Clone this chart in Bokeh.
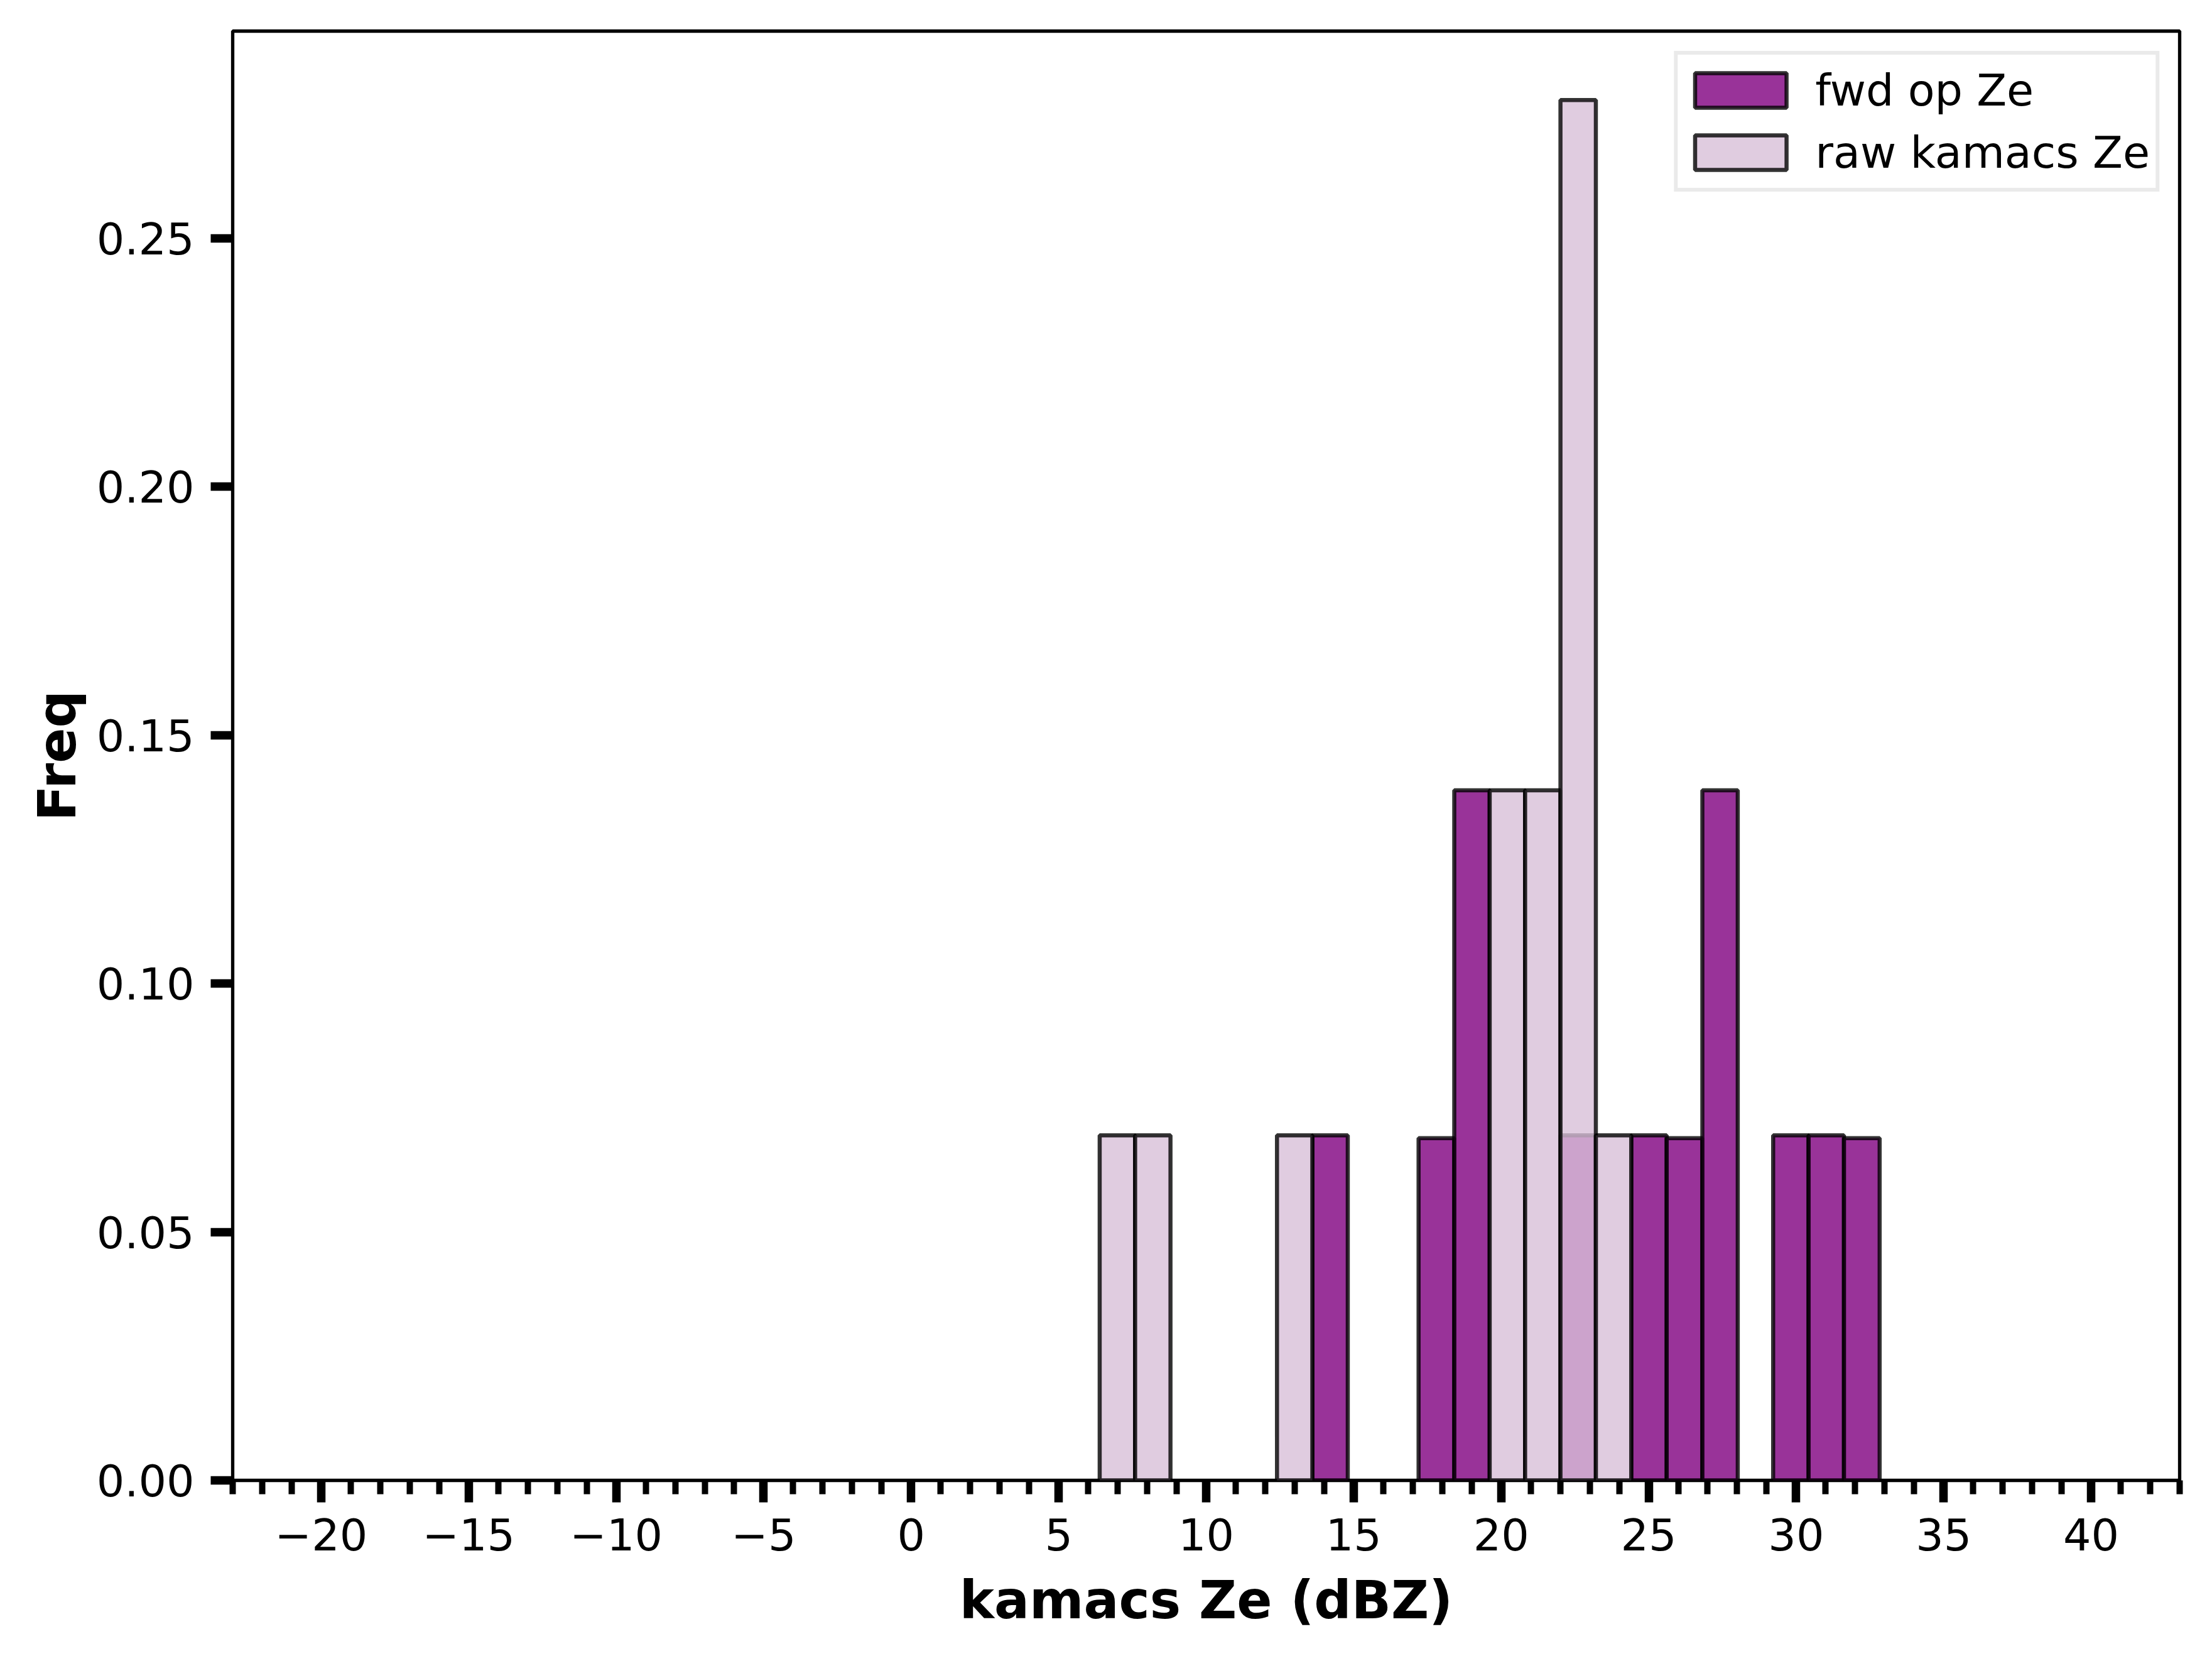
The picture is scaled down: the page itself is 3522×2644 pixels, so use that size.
from bokeh.plotting import figure
from bokeh.models import Range1d, FixedTicker, Legend, LegendItem
from bokeh.embed import file_html
from bokeh.resources import INLINE

# ---- data ----
bin_edges = [6.39, 7.59, 8.79, 10.00, 11.20, 12.40, 13.60, 14.80, 16.00, 17.20,
             18.41, 19.61, 20.81, 22.01, 23.21, 24.41, 25.61, 26.82, 28.02,
             29.22, 30.42, 31.62, 32.83]
fwd_counts = [0, 0, 0, 0, 0, 0, 1, 0, 0, 1, 2, 0, 0, 1, 0, 1, 1, 2, 0, 1, 1, 1]
raw_counts = [1, 1, 0, 0, 0, 1, 0, 0, 0, 0, 0, 2, 2, 4, 1, 0, 0, 0, 0, 0, 0, 0]
series_names = ["fwd op Ze", "raw kamacs Ze"]

x_ticks = [-20, -15, -10, -5, 0, 5, 10, 15, 20, 25, 30, 35, 40]
x_tick_labels = ["\u221220", "\u221215", "\u221210", "\u22125", "0", "5", "10",
                 "15", "20", "25", "30", "35", "40"]
x_minor_ticks = list(range(-23, 44))
y_ticks = [0.0, 0.05, 0.1, 0.15, 0.2, 0.25]
y_tick_labels = ["0.00", "0.05", "0.10", "0.15", "0.20", "0.25"]
x_limits = (-23, 43)


def density(counts, edges):
    total = sum(counts)
    lefts, rights, tops = [], [], []
    for i, c in enumerate(counts):
        if c > 0:
            w = edges[i + 1] - edges[i]
            lefts.append(edges[i])
            rights.append(edges[i + 1])
            tops.append(c / (total * w))
    return lefts, rights, tops


fl, fr, ft = density(fwd_counts, bin_edges)
rl, rr, rt = density(raw_counts, bin_edges)
ymax = max(ft + rt) * 1.05

FONT = "DejaVu Sans"

p = figure(width=3506, height=2628, output_backend="svg", toolbar_location=None,
           x_range=Range1d(*x_limits), y_range=Range1d(0, ymax),
           min_border_left=370, min_border_right=36,
           min_border_top=49, min_border_bottom=272)
p.background_fill_color = "white"
p.border_fill_color = "white"
p.grid.visible = False
p.outline_line_color = "black"
p.outline_line_width = 5.3
p.outline_line_alpha = 1.0

r_fwd = p.quad(left=fl, right=fr, top=ft, bottom=0,
               fill_color="purple", fill_alpha=0.8,
               line_color="black", line_alpha=0.8, line_width=6.5)
r_raw = p.quad(left=rl, right=rr, top=rt, bottom=0,
               fill_color="thistle", fill_alpha=0.8,
               line_color="black", line_alpha=0.8, line_width=6.5)

# x axis
xa = p.xaxis[0]
xa.ticker = FixedTicker(ticks=x_ticks, minor_ticks=x_minor_ticks)
xa.major_label_overrides = {t: l for t, l in zip(x_ticks, x_tick_labels)}
xa.axis_label = "kamacs Ze (dBZ)"
xa.axis_line_color = None
xa.major_tick_in = 0
xa.major_tick_out = 35
xa.major_tick_line_width = 13.5
xa.major_tick_line_color = "black"
xa.minor_tick_in = 0
xa.minor_tick_out = 22
xa.minor_tick_line_width = 10
xa.minor_tick_line_color = "black"
xa.major_label_standoff = 25
xa.axis_label_standoff = 28

# y axis
ya = p.yaxis[0]
ya.ticker = FixedTicker(ticks=y_ticks, minor_ticks=[])
ya.major_label_overrides = {t: l for t, l in zip(y_ticks, y_tick_labels)}
ya.axis_label = "Freq"
ya.axis_line_color = None
ya.major_tick_in = 0
ya.major_tick_out = 35
ya.major_tick_line_width = 13.5
ya.major_tick_line_color = "black"
ya.minor_tick_line_color = None
ya.major_label_standoff = 26
ya.axis_label_standoff = 11

for ax in (xa, ya):
    ax.major_label_text_font = FONT
    ax.major_label_text_font_size = "70px"
    ax.major_label_text_color = "black"
    ax.axis_label_text_font = FONT
    ax.axis_label_text_font_size = "83px"
    ax.axis_label_text_font_style = "bold"
    ax.axis_label_text_color = "black"

legend = Legend(items=[LegendItem(label=series_names[0], renderers=[r_fwd]),
                       LegendItem(label=series_names[1], renderers=[r_raw])],
                location="top_right")
legend.margin = 32
legend.padding = 9
legend.spacing = 4
legend.glyph_width = 182
legend.glyph_height = 69
legend.label_height = 95
legend.label_standoff = 28
legend.label_text_font = FONT
legend.label_text_font_size = "70px"
legend.label_text_color = "black"
legend.border_line_color = "#d6d6d6"
legend.border_line_width = 6
legend.background_fill_color = "white"
legend.background_fill_alpha = 0.8
p.add_layout(legend, "center")

open("out.html", "w").write(file_html(p, INLINE))
